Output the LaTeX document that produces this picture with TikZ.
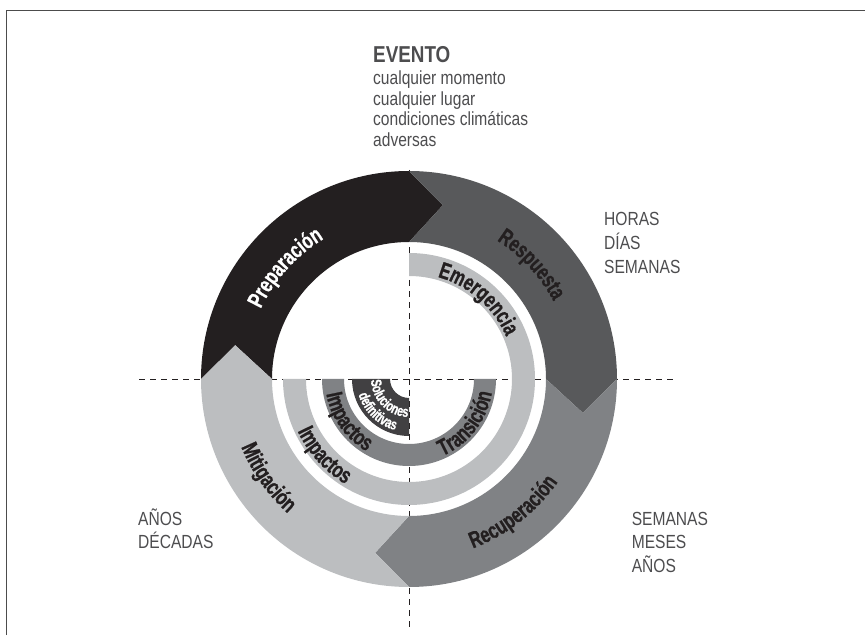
\documentclass[tikz,border=0pt]{standalone}
\usepackage{fontspec}
\setmainfont{Liberation Sans}[FakeStretch=0.82]
\newfontfamily\ringfam{Liberation Sans}[FakeStretch=0.72, BoldFeatures={FakeBold=0.8}]
\usetikzlibrary{decorations.text}

\definecolor{prepcol}{HTML}{231F20}
\definecolor{respcol}{HTML}{58595B}
\definecolor{recucol}{HTML}{808285}
\definecolor{miticol}{HTML}{BCBEC0}
\definecolor{solucol}{HTML}{414042}
\definecolor{labelcol}{HTML}{4D4D4F}

\newcommand\ringfont{\ringfam\fontsize{23}{26}\selectfont\bfseries}
\newcommand\solufont{\ringfam\fontsize{15}{17}\selectfont\bfseries}

\begin{document}
\begin{tikzpicture}[
    x=1pt, y=1pt,
    font=\fontsize{19}{23.5}\selectfont,
    axis/.style={draw=prepcol, line width=0.9pt, dash pattern=on 6pt off 5pt},
    frame/.style={draw=black!70, line width=1pt},
    timetext/.style={text=labelcol, inner sep=0pt, anchor=base west},
    ringtext/.style={decorate, decoration={text along path, text align=center, text color=prepcol, text={|\ringfont|#1}}},
    whitering/.style={decorate, decoration={text along path, text align=center, text color=white, text={|\ringfont|#1}}},
    soluring/.style={decorate, decoration={text along path, text align=center, text color=white, text={|\solufont|#1}}}
]
\useasboundingbox (0,0) rectangle (865,635);
\draw[frame] (6.5,0) -- (6.5,624) -- (865,624);

\coordinate (c) at (409,256);
\coordinate (axL) at (139,256);
\coordinate (axR) at (677,256);
\coordinate (axT) at (409,465);
\coordinate (axB) at (409,8);

% ejes
\draw[axis] (axL) -- (axR);
\draw[axis] (axT) -- (axB);

\begin{scope}[shift={(c)}]
% anillo exterior
\foreach \t/\h/\col in {180/90/prepcol, 90/0/respcol, 0/-90/recucol, 270/180/miticol}
    \fill[fill=\col] (\t:208) arc[start angle=\t, end angle=\h, radius=208]
        -- ({\h-11}:177) -- (\h:137) arc[start angle=\h, end angle=\t, radius=137]
        -- ({\t-11}:177) -- cycle;

% anillos interiores
\fill[miticol] (90:126) arc[start angle=90, end angle=-180, radius=126]
    -- (180:103) arc[start angle=180, end angle=450, radius=103] -- cycle;
\fill[recucol] (180:87) arc[start angle=180, end angle=360, radius=87]
    -- (0:65) arc[start angle=0, end angle=-180, radius=65] -- cycle;
\fill[solucol] (180:57) arc[start angle=180, end angle=270, radius=57]
    -- (270:19) arc[start angle=270, end angle=180, radius=19] -- cycle;

% textos curvos
\path[whitering={Preparación}] (183:164) arc[start angle=183, end angle=93, radius=164];
\path[ringtext={Respuesta}] (88:164) arc[start angle=88, end angle=-2, radius=164];
\path[ringtext={Recuperación}] (-97:181) arc[start angle=-97, end angle=-7, radius=181];
\path[ringtext={Mitigación}] (170:181) arc[start angle=170, end angle=260, radius=181];
\path[ringtext={Emergencia}] (104:106) arc[start angle=104, end angle=-6, radius=106];
\path[ringtext={Impactos}] (167:123) arc[start angle=167, end angle=277, radius=123];
\path[ringtext={Impactos}] (155:84) arc[start angle=155, end angle=275, radius=84];
\path[ringtext={Transición}] (-98:84) arc[start angle=-98, end angle=22, radius=84];
\path[soluring={Soluciones}] (165:38) arc[start angle=165, end angle=285, radius=38];
\path[soluring={definitivas}] (166:53) arc[start angle=166, end angle=286, radius=53];
\end{scope}

% textos
\node[timetext, font=\fontsize{23}{26}\selectfont\bfseries] (evento) at (373,572.7) {EVENTO};
\node[timetext, font=\fontsize{19}{20.8}\selectfont] (eventotxt) at (373,550.7) {\begin{tabular}[t]{@{}l@{}}
    cualquier momento\\
    cualquier lugar\\
    condiciones climáticas\\
    adversas
\end{tabular}};
\node[timetext] (horas) at (604,409) {\begin{tabular}[t]{@{}l@{}}HORAS\\DÍAS\\SEMANAS\end{tabular}};
\node[timetext] (anos) at (138,110) {\begin{tabular}[t]{@{}l@{}}AÑOS\\DÉCADAS\end{tabular}};
\node[timetext] (semanas) at (631.6,110) {\begin{tabular}[t]{@{}l@{}}SEMANAS\\MESES\\AÑOS\end{tabular}};

\end{tikzpicture}
\end{document}
